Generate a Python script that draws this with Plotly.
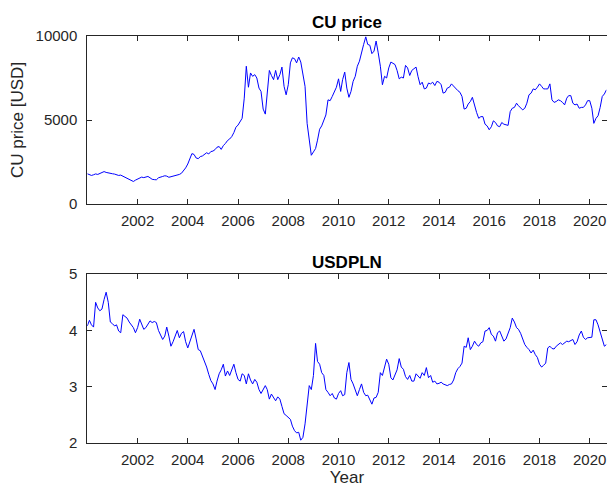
import plotly.graph_objects as go

# ---------------- data (monthly) ----------------
start_year = 2000
months_total = 249  # Jan 2000 .. Sep 2020

cu_2000 = [1800, 1760, 1700, 1740, 1790, 1760, 1820, 1880, 1930, 1880, 1840, 1830]
cu_2001 = [1800, 1780, 1740, 1700, 1720, 1650, 1580, 1520, 1460, 1400, 1340, 1420]
cu_2002 = [1480, 1540, 1600, 1570, 1610, 1640, 1560, 1470, 1450, 1440, 1560, 1580]
cu_2003 = [1640, 1680, 1660, 1590, 1620, 1670, 1690, 1720, 1760, 1830, 1980, 2150]
cu_2004 = [2380, 2720, 3000, 2950, 2740, 2700, 2820, 2860, 2950, 3050, 2980, 3120]
cu_2005 = [3150, 3240, 3380, 3420, 3250, 3480, 3600, 3780, 3870, 4010, 4250, 4570]
cu_2006 = [4700, 4950, 5100, 6300, 8200, 6950, 7800, 7600, 7700, 7500, 6900, 6700]
cu_2007 = [5650, 5350, 6400, 7950, 7650, 7400, 7950, 7400, 7700, 8150, 7000, 6500]
cu_2008 = [7100, 8400, 8700, 8650, 8400, 8750, 8450, 7600, 7000, 4800, 3700, 2900]
cu_2009 = [3100, 3300, 3800, 4450, 4650, 5000, 5300, 6200, 6150, 6400, 6700, 6950]
cu_2010 = [7450, 6700, 7400, 7850, 6900, 6350, 6700, 7300, 7600, 8200, 8500, 9100]
cu_2011 = [9500, 9950, 9500, 9450, 8950, 9100, 9700, 9000, 8200, 7100, 7600, 7500]
cu_2012 = [8100, 8450, 8400, 8300, 7950, 7450, 7550, 7500, 8250, 8100, 7650, 7950]
cu_2013 = [8050, 8150, 7600, 7100, 7250, 6850, 6900, 7200, 7150, 7250, 7050, 7300]
cu_2014 = [7250, 7100, 6600, 6650, 6900, 6950, 7150, 7000, 6850, 6750, 6650, 6400]
cu_2015 = [5650, 5700, 5950, 6100, 6350, 5800, 5450, 5100, 5200, 5200, 4750, 4650]
cu_2016 = [4420, 4600, 4950, 4850, 4650, 4600, 4850, 4750, 4700, 4680, 5500, 5700]
cu_2017 = [5750, 6000, 5850, 5700, 5600, 5700, 6000, 6500, 6600, 6850, 6800, 6950]
cu_2018 = [7150, 7000, 6850, 6850, 6850, 7150, 6200, 6050, 6100, 6200, 6150, 6050]
cu_2019 = [5900, 6300, 6450, 6450, 6000, 5900, 5950, 5700, 5750, 5750, 5900, 6150]
cu_2020 = [6150, 5700, 4800, 5100, 5250, 5750, 6400, 6550, 6800]

fx_2000 = [4.08, 4.18, 4.10, 4.06, 4.50, 4.40, 4.35, 4.38, 4.55, 4.68, 4.50, 4.15]
fx_2001 = [4.12, 4.08, 4.10, 3.99, 3.96, 4.28, 4.25, 4.22, 4.15, 4.10, 4.05, 3.96]
fx_2002 = [4.05, 4.20, 4.12, 4.02, 4.05, 4.10, 4.17, 4.14, 4.16, 4.14, 4.00, 3.92]
fx_2003 = [3.84, 3.90, 4.06, 3.90, 3.72, 3.80, 3.90, 4.00, 3.87, 3.95, 3.98, 3.80]
fx_2004 = [3.69, 3.80, 3.88, 4.02, 3.85, 3.66, 3.64, 3.55, 3.45, 3.35, 3.22, 3.11]
fx_2005 = [3.05, 2.95, 3.10, 3.23, 3.30, 3.40, 3.19, 3.28, 3.20, 3.30, 3.40, 3.25]
fx_2006 = [3.13, 3.10, 3.23, 3.20, 3.05, 3.23, 3.12, 3.05, 3.13, 3.08, 2.95, 2.88]
fx_2007 = [2.95, 3.02, 2.95, 2.78, 2.87, 2.80, 2.75, 2.82, 2.78, 2.65, 2.52, 2.49]
fx_2008 = [2.46, 2.42, 2.30, 2.22, 2.18, 2.19, 2.05, 2.10, 2.34, 2.63, 3.02, 2.95]
fx_2009 = [3.20, 3.77, 3.45, 3.40, 3.25, 3.20, 2.95, 2.90, 2.84, 2.88, 2.80, 2.78]
fx_2010 = [2.88, 2.93, 2.84, 2.86, 3.25, 3.43, 3.13, 3.05, 2.95, 2.84, 2.95, 3.05]
fx_2011 = [2.90, 2.84, 2.85, 2.75, 2.69, 2.80, 2.81, 2.90, 3.25, 3.20, 3.34, 3.49]
fx_2012 = [3.40, 3.16, 3.12, 3.22, 3.30, 3.50, 3.35, 3.31, 3.18, 3.13, 3.20, 3.10]
fx_2013 = [3.10, 3.23, 3.19, 3.15, 3.25, 3.20, 3.34, 3.16, 3.20, 3.08, 3.10, 3.05]
fx_2014 = [3.06, 3.08, 3.05, 3.03, 3.02, 3.04, 3.05, 3.12, 3.25, 3.32, 3.36, 3.42]
fx_2015 = [3.72, 3.70, 3.87, 3.66, 3.72, 3.81, 3.75, 3.72, 3.78, 3.80, 3.99, 4.00]
fx_2016 = [4.05, 3.93, 3.90, 3.81, 3.96, 3.99, 3.90, 3.81, 3.85, 3.96, 4.05, 4.22]
fx_2017 = [4.15, 4.05, 4.02, 3.95, 3.85, 3.75, 3.70, 3.66, 3.60, 3.65, 3.57, 3.52]
fx_2018 = [3.40, 3.35, 3.38, 3.42, 3.69, 3.72, 3.68, 3.67, 3.72, 3.75, 3.78, 3.75]
fx_2019 = [3.78, 3.81, 3.80, 3.82, 3.84, 3.75, 3.80, 3.92, 3.99, 3.88, 3.84, 3.87]
fx_2020 = [3.87, 3.88, 4.19, 4.19, 4.10, 3.96, 3.85, 3.72, 3.75]

year_ticks = [2002, 2004, 2006, 2008, 2010, 2012, 2014, 2016, 2018, 2020]
cu_ticks = [0, 5000, 10000]
fx_ticks = [2, 3, 4, 5]

cu_price = (cu_2000 + cu_2001 + cu_2002 + cu_2003 + cu_2004 + cu_2005 + cu_2006 +
            cu_2007 + cu_2008 + cu_2009 + cu_2010 + cu_2011 + cu_2012 + cu_2013 +
            cu_2014 + cu_2015 + cu_2016 + cu_2017 + cu_2018 + cu_2019 + cu_2020)
usdpln = (fx_2000 + fx_2001 + fx_2002 + fx_2003 + fx_2004 + fx_2005 + fx_2006 +
          fx_2007 + fx_2008 + fx_2009 + fx_2010 + fx_2011 + fx_2012 + fx_2013 +
          fx_2014 + fx_2015 + fx_2016 + fx_2017 + fx_2018 + fx_2019 + fx_2020)

dates = [f"{start_year + i // 12}-{i % 12 + 1:02d}-01" for i in range(months_total)]

# ---------------- figure ----------------
W, H = 607, 491
FONT = "Liberation Sans, Arial, Helvetica, sans-serif"
AX = "#262626"


def px_x(px):
    return px / W


def px_y(py):
    return 1 - py / H


fig = go.Figure()
fig.add_trace(go.Scatter(x=dates, y=cu_price, mode="lines",
                         line=dict(color="#0000FF", width=1), xaxis="x", yaxis="y",
                         showlegend=False))
fig.add_trace(go.Scatter(x=dates, y=usdpln, mode="lines",
                         line=dict(color="#0000FF", width=1), xaxis="x2", yaxis="y2",
                         showlegend=False))

xdom = [px_x(87.3), px_x(606.5)]
ydom_top = [px_y(204), px_y(36)]
ydom_bot = [px_y(443), px_y(274.2)]

TICKSIZE = 15
LABSIZE = 17

common_x = dict(
    type="date", range=[dates[0], dates[-1]],
    tickvals=[f"{y}-01-01" for y in year_ticks],
    ticktext=[str(y) for y in year_ticks],
    ticks="inside", ticklen=5, tickcolor=AX, tickwidth=1,
    showline=True, linecolor=AX, linewidth=1, mirror="ticks",
    showgrid=False, zeroline=False, domain=xdom, automargin=False,
    tickfont=dict(family=FONT, size=TICKSIZE, color=AX),
    ticklabelstandoff=3,
)
common_y = dict(
    ticks="inside", ticklen=5, tickcolor=AX, tickwidth=1,
    showline=True, linecolor=AX, linewidth=1, mirror="ticks",
    showgrid=False, zeroline=False, automargin=False,
    tickfont=dict(family=FONT, size=TICKSIZE, color=AX),
    ticklabelstandoff=6,
)

fig.update_layout(
    width=W, height=H,
    margin=dict(l=0, r=0, t=0, b=0, autoexpand=False),
    paper_bgcolor="white", plot_bgcolor="white",
    font=dict(family=FONT, color=AX),
    xaxis=dict(common_x, anchor="y"),
    xaxis2=dict(common_x, anchor="y2",
                title=dict(text="Year", font=dict(family=FONT, size=LABSIZE, color=AX), standoff=2)),
    yaxis=dict(common_y, domain=ydom_top, anchor="x", range=[0, 10000],
               tickvals=cu_ticks, ticktext=[str(v) for v in cu_ticks],
               title=dict(text="CU price [USD]", font=dict(family=FONT, size=LABSIZE, color=AX),
                          standoff=7)),
    yaxis2=dict(common_y, domain=ydom_bot, anchor="x2", range=[2, 5],
                tickvals=fx_ticks, ticktext=[str(v) for v in fx_ticks]),
    annotations=[
        dict(text="<b>CU price</b>", x=(xdom[0] + xdom[1]) / 2, y=px_y(22),
             xref="paper", yref="paper", showarrow=False, xanchor="center", yanchor="middle",
             font=dict(family=FONT, size=LABSIZE, color="black")),
        dict(text="<b>USDPLN</b>", x=(xdom[0] + xdom[1]) / 2, y=px_y(262),
             xref="paper", yref="paper", showarrow=False, xanchor="center", yanchor="middle",
             font=dict(family=FONT, size=LABSIZE, color="black")),
    ],
)

# remove the browser's default page margin so the 607x491 figure fills the window
fig.write_html(
    "out.html",
    config={"displayModeBar": False},
    post_script="document.body.style.margin='0px';"
                "document.documentElement.style.overflow='hidden';"
                "document.body.style.overflow='hidden';",
)
